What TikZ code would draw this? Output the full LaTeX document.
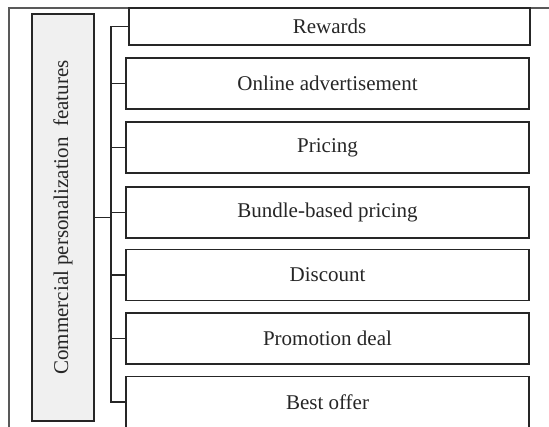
\documentclass[tikz,border=0pt]{standalone}
\usepackage{fontspec}
\setmainfont{Liberation Serif}
\begin{document}
\begin{tikzpicture}[x=0.75pt,y=-0.75pt,
  itembox/.style={draw=black!85,line width=1.1pt,minimum width=302.25pt,minimum height=38.25pt,inner sep=0pt,text=black!85,font=\fontsize{15.75}{18}\selectfont},
  rootbox/.style={draw=black!85,line width=1.1pt,fill=black!6,minimum width=46.5pt,minimum height=305.25pt,inner sep=0pt},
  conn/.style={draw=black!85,line width=1.1pt},
  frame/.style={draw=black!65,line width=0.8pt}]
\useasboundingbox (0,0) rectangle (549,426);
\clip (0,0) rectangle (549,426);
\draw[frame] (9,427) -- (9,8) -- (550,8);
\node[rootbox] (root) at (63,217.5) {};
\node[rotate=90,text=black!85,font=\fontsize{15.75}{18}\selectfont] (rootlabel) at (root.center) {Commercial personalization \ features};
\node[itembox,minimum width=300.75pt,minimum height=27.75pt] (r1) at (329.5,26.5) {Rewards};
\node[itembox] (r2) at (327.5,83.5) {Online advertisement};
\node[itembox] (r3) at (327.5,147.5) {Pricing};
\node[itembox] (r4) at (327.5,212.5) {Bundle-based pricing};
\node[itembox] (r5) at (327.5,275) {Discount};
\node[itembox] (r6) at (327.5,338.5) {Promotion deal};
\node[itembox] (r7) at (327.5,402) {Best offer};
\coordinate (spine) at (111,217.5);
\draw[conn] (root.east) -- (root.east -| spine);
\draw[conn,line cap=rect] (r1.west -| spine) -- (r7.west -| spine);
\foreach \i in {1,...,7} { \draw[conn] (r\i.west -| spine) -- (r\i.west); }
\end{tikzpicture}
\end{document}
